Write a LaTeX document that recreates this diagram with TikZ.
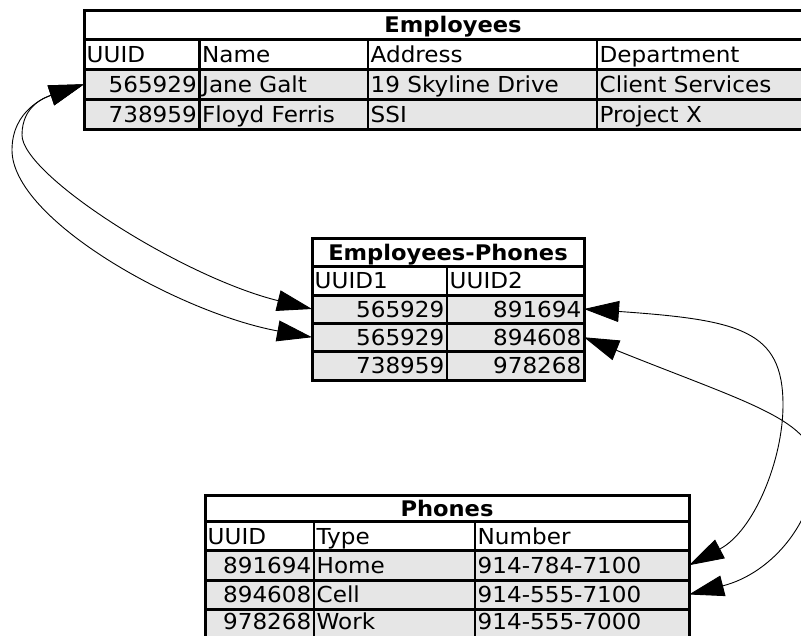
\documentclass[tikz,border=0pt]{standalone}
\usepackage{fontspec}
\setmainfont{DejaVu Sans}[FakeStretch=1.05]
\usetikzlibrary{arrows.meta}
\definecolor{cellgray}{HTML}{E6E6E6}
\begin{document}
\begin{tikzpicture}[x=1pt,y=-1pt,
  tblrow/.style={draw=black, line width=3pt, anchor=north west,
    inner sep=0pt, outer sep=0pt},
  headrow/.style={tblrow, fill=white},
  datarow/.style={tblrow, fill=cellgray},
  colsep/.style={line width=2.5pt},
  cell/.style={inner sep=0pt, anchor=base west, font=\fontsize{22}{26}\selectfont},
  num/.style={cell, anchor=base east},
  ttl/.style={inner sep=0pt, anchor=base, font=\fontsize{21.5}{26}\selectfont\bfseries},
  link/.style={line width=0.9pt,
    {Triangle[length=35pt,width=21pt]}-{Triangle[length=35pt,width=21pt]}}]
\useasboundingbox[fill=white] (0,0) rectangle (801,635);

% ---------- Employees ----------
\node[headrow, minimum width=738pt, minimum height=29pt]   (emp-title) at (84,10) {};
\node[headrow, minimum width=738pt, minimum height=30pt]   (emp-head)  at (84,39) {};
\node[datarow, minimum width=738pt, minimum height=30.5pt] (emp-r1)    at (84,69) {};
\node[datarow, minimum width=738pt, minimum height=30pt]   (emp-r2)    at (84,99.5) {};
\draw[colsep] (199.5,39) -- (199.5,129.5);
\draw[colsep] (368,39) -- (368,129.5);
\draw[colsep] (597,39) -- (597,129.5);
\node[ttl] (emp-t) at (453,32.5) {Employees};
\node[cell] (emp-h1) at (86.5,62) {UUID};
\node[cell] (emp-h2) at (202,62) {Name};
\node[cell] (emp-h3) at (370.5,62) {Address};
\node[cell] (emp-h4) at (599.5,62) {Department};
\node[num]  (emp-a1) at (197,92.25) {565929};
\node[cell] (emp-a2) at (202,92.25) {Jane Galt};
\node[cell] (emp-a3) at (370.5,92.25) {19 Skyline Drive};
\node[cell] (emp-a4) at (599.5,92.25) {Client Services};
\node[num]  (emp-b1) at (197,122.5) {738959};
\node[cell] (emp-b2) at (202,122.5) {Floyd Ferris};
\node[cell] (emp-b3) at (370.5,122.5) {SSI};
\node[cell] (emp-b4) at (599.5,122.5) {Project X};

% ---------- Employees-Phones ----------
\node[headrow, minimum width=272pt, minimum height=28.5pt] (ep-title) at (312,238) {};
\node[headrow, minimum width=272pt, minimum height=28.5pt] (ep-head)  at (312,266.5) {};
\node[datarow, minimum width=272pt, minimum height=28pt]   (ep-r1)    at (312,295) {};
\node[datarow, minimum width=272pt, minimum height=28.5pt] (ep-r2)    at (312,323) {};
\node[datarow, minimum width=272pt, minimum height=28.5pt] (ep-r3)    at (312,351.5) {};
\draw[colsep] (447,266.5) -- (447,380);
\node[ttl] (ep-t) at (448,260.25) {Employees-Phones};
\node[cell] (ep-h1) at (314.5,288.75) {UUID1};
\node[cell] (ep-h2) at (449.5,288.75) {UUID2};
\node[num] (ep-a1) at (444.5,317) {565929};
\node[num] (ep-a2) at (581.5,317) {891694};
\node[num] (ep-b1) at (444.5,345.25) {565929};
\node[num] (ep-b2) at (581.5,345.25) {894608};
\node[num] (ep-c1) at (444.5,373.75) {738959};
\node[num] (ep-c2) at (581.5,373.75) {978268};

% ---------- Phones ----------
\node[headrow, minimum width=484pt, minimum height=26.5pt] (ph-title) at (205,495) {};
\node[headrow, minimum width=484pt, minimum height=29pt]   (ph-head)  at (205,521.5) {};
\node[datarow, minimum width=484pt, minimum height=29.5pt] (ph-r1)    at (205,550.5) {};
\node[datarow, minimum width=484pt, minimum height=29pt]   (ph-r2)    at (205,580) {};
\node[datarow, minimum width=484pt, minimum height=29pt]   (ph-r3)    at (205,609) {};
\draw[colsep] (314,521.5) -- (314,638);
\draw[colsep] (475,521.5) -- (475,638);
\node[ttl] (ph-t) at (447,516.25) {Phones};
\node[cell] (ph-h1) at (207.5,544) {UUID};
\node[cell] (ph-h2) at (316.5,544) {Type};
\node[cell] (ph-h3) at (477.5,544) {Number};
\node[num]  (ph-a1) at (311.5,573.25) {891694};
\node[cell] (ph-a2) at (316.5,573.25) {Home};
\node[cell] (ph-a3) at (477.5,573.25) {914-784-7100};
\node[num]  (ph-b1) at (311.5,602.5) {894608};
\node[cell] (ph-b2) at (316.5,602.5) {Cell};
\node[cell] (ph-b3) at (477.5,602.5) {914-555-7100};
\node[num]  (ph-c1) at (311.5,629.5) {978268};
\node[cell] (ph-c2) at (316.5,629.5) {Work};
\node[cell] (ph-c3) at (477.5,629.5) {914-555-7000};

% ---------- links ----------
\draw[link] (ep-r1.west) .. controls (182,277) and (22,175) .. (22,135)
  .. controls (22,105) and (46,97) .. (emp-r1.west);
\draw[link] (ep-r2.west) .. controls (180,313) and (12,220) .. (12,150)
  .. controls (12,110) and (46,97) .. (emp-r1.west);
\draw[link] (ep-r1.east) .. controls (740,320) and (783,330) .. (783,405)
  .. controls (783,460) and (754,531) .. (ph-r1.east);
\draw[link] (ep-r2.east) .. controls (750,404) and (815,420) .. (815,468)
  .. controls (815,520) and (773,573) .. (ph-r2.east);
\end{tikzpicture}
\end{document}
